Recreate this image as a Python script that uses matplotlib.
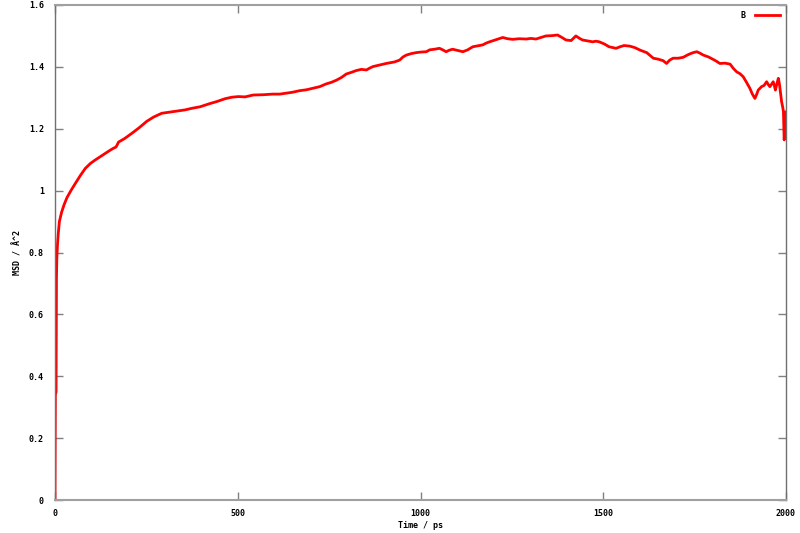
import numpy as np
import matplotlib
matplotlib.use("Agg")
import matplotlib.pyplot as plt

# MSD curve (time in ps, MSD in A^2)
time_ps = [0, 1, 3, 4, 5, 7, 9, 12, 18, 25,
           33, 45, 56, 70, 83, 97, 110, 124, 137, 150,
           160, 167, 174, 190, 210, 230, 251, 270, 292, 315,
           338, 356, 374, 397, 420, 443, 465, 484, 502, 520,
           542, 570, 596, 615, 633, 650, 669, 688, 706, 724,
           742, 756, 770, 784, 797, 810, 824, 838, 852, 861,
           870, 884, 897, 906, 915, 929, 943, 952, 961, 975,
           988, 1002, 1016, 1025, 1038, 1052, 1061, 1070, 1079, 1088,
           1102, 1116, 1129, 1143, 1157, 1170, 1180, 1189, 1207, 1225,
           1238, 1252, 1270, 1289, 1302, 1316, 1330, 1343, 1360, 1375,
           1387, 1398, 1412, 1418, 1425, 1434, 1443, 1457, 1471, 1480,
           1489, 1503, 1516, 1535, 1546, 1557, 1573, 1587, 1601, 1619,
           1637, 1650, 1664, 1673, 1682, 1691, 1705, 1719, 1728, 1737,
           1746, 1756, 1765, 1774, 1788, 1801, 1810, 1819, 1833, 1847,
           1856, 1865, 1874, 1883, 1892, 1901, 1908, 1915, 1920, 1924,
           1928, 1933, 1940, 1947, 1952, 1956, 1961, 1965, 1968, 1971,
           1975, 1979, 1982, 1984, 1988, 1991, 1993, 1995, 1997, 1999,
           2000]
msd = [0.0, 0.34, 0.35, 0.72, 0.78, 0.83, 0.862, 0.90, 0.93, 0.955,
       0.978, 1.003, 1.024, 1.050, 1.072, 1.088, 1.099, 1.110, 1.120, 1.130,
       1.137, 1.141, 1.157, 1.168, 1.185, 1.203, 1.224, 1.238, 1.250, 1.254,
       1.258, 1.261, 1.266, 1.271, 1.280, 1.288, 1.297, 1.302, 1.304, 1.303,
       1.309, 1.310, 1.312, 1.312, 1.315, 1.318, 1.323, 1.326, 1.331, 1.336,
       1.345, 1.350, 1.357, 1.366, 1.377, 1.382, 1.388, 1.392, 1.390, 1.396,
       1.401, 1.405, 1.409, 1.411, 1.413, 1.416, 1.422, 1.432, 1.438, 1.443,
       1.446, 1.448, 1.449, 1.455, 1.457, 1.460, 1.455, 1.449, 1.454, 1.457,
       1.453, 1.449, 1.455, 1.465, 1.468, 1.471, 1.477, 1.481, 1.488, 1.495,
       1.491, 1.489, 1.491, 1.490, 1.492, 1.490, 1.495, 1.500, 1.501, 1.503,
       1.495, 1.487, 1.485, 1.492, 1.500, 1.493, 1.487, 1.484, 1.481, 1.483,
       1.481, 1.474, 1.465, 1.460, 1.465, 1.469, 1.467, 1.462, 1.454, 1.446,
       1.428, 1.425, 1.420, 1.411, 1.422, 1.428, 1.428, 1.431, 1.437, 1.442,
       1.446, 1.449, 1.444, 1.438, 1.432, 1.424, 1.418, 1.411, 1.412, 1.409,
       1.395, 1.384, 1.378, 1.368, 1.350, 1.331, 1.312, 1.298, 1.312, 1.325,
       1.330, 1.336, 1.340, 1.352, 1.342, 1.336, 1.345, 1.352, 1.340, 1.325,
       1.345, 1.363, 1.345, 1.325, 1.287, 1.270, 1.255, 1.164, 1.200, 1.255,
       1.250]
assert len(time_ps) == len(msd)

x_ticks = [0, 500, 1000, 1500, 2000]
y_ticks = [0, 0.2, 0.4, 0.6, 0.8, 1.0, 1.2, 1.4, 1.6]
y_labels = ["0", "0.2", "0.4", "0.6", "0.8", "1", "1.2", "1.4", "1.6"]

font = {"family": "DejaVu Sans Mono", "weight": "bold", "size": 6}

fig = plt.figure(figsize=(8, 5.33), dpi=100)
ax = fig.add_axes([55 / 800, 33 / 533, 731 / 800, 495 / 533])

ax.plot(time_ps, msd, color="#ff0000", linewidth=2.0, label="B")

ax.set_xlim(0, 2000)
ax.set_ylim(0, 1.6)
ax.set_xticks(x_ticks)
ax.set_xticklabels([str(t) for t in x_ticks], fontdict=font)
ax.set_yticks(y_ticks)
ax.set_yticklabels(y_labels, fontdict=font)
ax.tick_params(direction="in", length=6, width=1, colors="#808080",
               top=True, right=True)
ax.tick_params(axis="x", pad=6.5)
ax.tick_params(axis="y", pad=8)
for lab in ax.get_xticklabels() + ax.get_yticklabels():
    lab.set_color("black")

for side in ["top", "bottom"]:
    ax.spines[side].set_color("#a0a0a0")
    ax.spines[side].set_linewidth(1.5)
for side in ["left", "right"]:
    ax.spines[side].set_color("#707070")
    ax.spines[side].set_linewidth(1.0)

ax.set_xlabel("Time / ps", fontdict=font, va="center")
ax.xaxis.set_label_coords(0.5, -26 / 495)
ax.set_ylabel("MSD / Å^2", fontdict=font, va="center")
ax.yaxis.set_label_coords(-37 / 731, 0.5)

leg = ax.legend(loc="upper right", frameon=False, markerfirst=False,
                handlelength=3.0, prop={"family": "DejaVu Sans Mono", "weight": "bold", "size": 6},
                borderaxespad=0.3, handletextpad=1.2)

fig.savefig("out.png", dpi=100)
